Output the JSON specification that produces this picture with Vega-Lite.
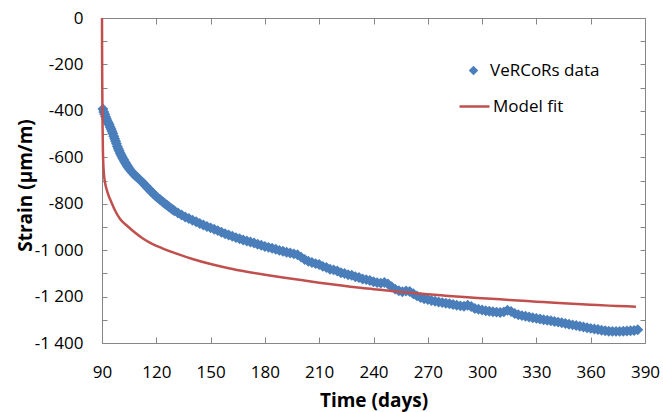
{
  "$schema": "https://vega.github.io/schema/vega-lite/v6.json",
  "width": 543,
  "height": 325,
  "autosize": "none",
  "padding": {"left": 102, "top": 18, "right": 18, "bottom": 69},
  "background": "white",
  "config": {
    "view": {"stroke": null},
    "font": "Open Sans",
    "axis": {"grid": false, "domainColor": "#868686", "tickColor": "#868686", "labelColor": "#000000", "titleColor": "#000000", "labelFont": "Open Sans", "titleFont": "Open Sans", "labelFontSize": 17, "titleFontSize": 19, "titleFontWeight": "bold", "domainWidth": 1, "tickWidth": 1, "ticks": true},
    "legend": {"labelFont": "Open Sans", "labelFontSize": 17, "labelColor": "#000000", "padding": 0}
  },
  "datasets": {
    "obs": [
      {"t": 90.5, "v": -392}, {"t": 91, "v": -405}, {"t": 91.5, "v": -415}, {"t": 92, "v": -425}, {"t": 92.5, "v": -435}, {"t": 93, "v": -445}, {"t": 93.5, "v": -452}, {"t": 94, "v": -460}, {"t": 94.5, "v": -469}, {"t": 95, "v": -478}, {"t": 95.5, "v": -488}, {"t": 96, "v": -498}, {"t": 96.5, "v": -509}, {"t": 97, "v": -520},
      {"t": 97.5, "v": -531}, {"t": 98, "v": -542}, {"t": 98.5, "v": -553}, {"t": 99, "v": -563}, {"t": 99.5, "v": -572}, {"t": 100, "v": -581}, {"t": 100.5, "v": -589}, {"t": 101, "v": -597}, {"t": 101.5, "v": -604}, {"t": 102, "v": -611}, {"t": 102.5, "v": -618}, {"t": 103, "v": -625}, {"t": 103.5, "v": -631}, {"t": 104, "v": -637}, {"t": 104.5, "v": -643}, {"t": 105, "v": -649}, {"t": 106, "v": -659}, {"t": 107, "v": -668}, {"t": 108, "v": -676}, {"t": 109, "v": -683}, {"t": 110, "v": -690},
      {"t": 112, "v": -705}, {"t": 113, "v": -713}, {"t": 114, "v": -722}, {"t": 115, "v": -730}, {"t": 116, "v": -738}, {"t": 117, "v": -746}, {"t": 118, "v": -754}, {"t": 119, "v": -762}, {"t": 120, "v": -769}, {"t": 121, "v": -776}, {"t": 122, "v": -782}, {"t": 123, "v": -788}, {"t": 124, "v": -795}, {"t": 125, "v": -801}, {"t": 126, "v": -807}, {"t": 127, "v": -813}, {"t": 128, "v": -819}, {"t": 129, "v": -825}, {"t": 130, "v": -830},
      {"t": 132, "v": -840}, {"t": 134, "v": -849}, {"t": 136, "v": -857}, {"t": 138, "v": -864}, {"t": 140, "v": -871}, {"t": 142, "v": -878}, {"t": 144, "v": -885}, {"t": 146, "v": -892}, {"t": 148, "v": -898}, {"t": 150, "v": -904}, {"t": 152, "v": -910}, {"t": 154, "v": -916}, {"t": 156, "v": -923}, {"t": 158, "v": -929}, {"t": 160, "v": -935}, {"t": 162, "v": -940}, {"t": 164, "v": -946}, {"t": 166, "v": -951}, {"t": 168, "v": -956}, {"t": 170, "v": -961}, {"t": 172, "v": -965}, {"t": 174, "v": -969}, {"t": 176, "v": -975}, {"t": 178, "v": -979}, {"t": 180, "v": -984}, {"t": 182, "v": -988}, {"t": 184, "v": -992}, {"t": 186, "v": -996}, {"t": 188, "v": -1001}, {"t": 190, "v": -1005}, {"t": 192, "v": -1009}, {"t": 194, "v": -1012}, {"t": 196, "v": -1016}, {"t": 198, "v": -1020}, {"t": 200, "v": -1030}, {"t": 202, "v": -1040}, {"t": 204, "v": -1048}, {"t": 206, "v": -1053}, {"t": 208, "v": -1058}, {"t": 210, "v": -1062}, {"t": 212, "v": -1070}, {"t": 214, "v": -1075}, {"t": 216, "v": -1082}, {"t": 218, "v": -1085}, {"t": 220, "v": -1090}, {"t": 222, "v": -1097}, {"t": 224, "v": -1101}, {"t": 226, "v": -1106}, {"t": 228, "v": -1108}, {"t": 230, "v": -1115}, {"t": 232, "v": -1118}, {"t": 234, "v": -1124}, {"t": 236, "v": -1127}, {"t": 238, "v": -1131}, {"t": 240, "v": -1136}, {"t": 242, "v": -1140}, {"t": 244, "v": -1142}, {"t": 246, "v": -1139}, {"t": 248, "v": -1146}, {"t": 250, "v": -1158}, {"t": 252, "v": -1168}, {"t": 254, "v": -1175}, {"t": 256, "v": -1179}, {"t": 258, "v": -1176}, {"t": 260, "v": -1178}, {"t": 262, "v": -1188}, {"t": 264, "v": -1197}, {"t": 266, "v": -1204}, {"t": 268, "v": -1209}, {"t": 270, "v": -1213}, {"t": 272, "v": -1217}, {"t": 274, "v": -1220}, {"t": 276, "v": -1223}, {"t": 278, "v": -1226}, {"t": 280, "v": -1229}, {"t": 282, "v": -1231}, {"t": 284, "v": -1234}, {"t": 286, "v": -1237}, {"t": 288, "v": -1240}, {"t": 290, "v": -1242}, {"t": 292, "v": -1237}, {"t": 294, "v": -1243}, {"t": 296, "v": -1251}, {"t": 298, "v": -1255}, {"t": 300, "v": -1258}, {"t": 302, "v": -1261}, {"t": 304, "v": -1263}, {"t": 306, "v": -1265}, {"t": 308, "v": -1267}, {"t": 310, "v": -1269}, {"t": 312, "v": -1266}, {"t": 314, "v": -1259}, {"t": 316, "v": -1264}, {"t": 318, "v": -1273}, {"t": 320, "v": -1278}, {"t": 322, "v": -1282}, {"t": 324, "v": -1285}, {"t": 326, "v": -1288}, {"t": 328, "v": -1291}, {"t": 330, "v": -1294}, {"t": 332, "v": -1297}, {"t": 334, "v": -1300}, {"t": 336, "v": -1302}, {"t": 338, "v": -1304}, {"t": 340, "v": -1307}, {"t": 342, "v": -1310}, {"t": 344, "v": -1313}, {"t": 346, "v": -1316}, {"t": 348, "v": -1319}, {"t": 350, "v": -1322}, {"t": 352, "v": -1325}, {"t": 354, "v": -1328}, {"t": 356, "v": -1331}, {"t": 358, "v": -1334}, {"t": 360, "v": -1337}, {"t": 362, "v": -1340}, {"t": 364, "v": -1342}, {"t": 366, "v": -1345}, {"t": 368, "v": -1347}, {"t": 370, "v": -1349}, {"t": 372, "v": -1350}, {"t": 374, "v": -1350}, {"t": 376, "v": -1350}, {"t": 378, "v": -1349}, {"t": 380, "v": -1348}, {"t": 382, "v": -1347}, {"t": 384, "v": -1346}, {"t": 386, "v": -1343}
    ],
    "fit": [
      {"t": 90, "v": 0}, {"t": 90.05, "v": -150}, {"t": 90.15, "v": -300}, {"t": 90.3, "v": -450}, {"t": 90.5, "v": -570}, {"t": 90.8, "v": -640}, {"t": 91.3, "v": -690}, {"t": 92, "v": -722}, {"t": 93, "v": -750}, {"t": 94, "v": -772}, {"t": 95, "v": -790}, {"t": 97, "v": -826}, {"t": 100, "v": -866}, {"t": 104, "v": -896}, {"t": 108, "v": -923}, {"t": 113, "v": -952}, {"t": 118, "v": -974}, {"t": 123, "v": -991}, {"t": 130, "v": -1012}, {"t": 140, "v": -1038}, {"t": 150, "v": -1060}, {"t": 160, "v": -1078}, {"t": 170, "v": -1093}, {"t": 180, "v": -1106}, {"t": 190, "v": -1118}, {"t": 200, "v": -1129}, {"t": 210, "v": -1140}, {"t": 220, "v": -1150}, {"t": 230, "v": -1160}, {"t": 240, "v": -1168}, {"t": 250, "v": -1176}, {"t": 260, "v": -1183}, {"t": 270, "v": -1190}, {"t": 280, "v": -1196}, {"t": 290, "v": -1202}, {"t": 300, "v": -1207}, {"t": 310, "v": -1212}, {"t": 320, "v": -1217}, {"t": 330, "v": -1222}, {"t": 340, "v": -1227}, {"t": 350, "v": -1231}, {"t": 360, "v": -1235}, {"t": 370, "v": -1239}, {"t": 380, "v": -1242}, {"t": 385, "v": -1244}
    ]
  },
  "layer": [
    {
      "data": {"name": "obs"},
      "mark": {"type": "point", "shape": "diamond", "filled": true, "size": 120, "opacity": 1, "color": "#4A7EBB", "strokeWidth": 0},
      "encoding": {
        "x": {"field": "t", "type": "quantitative", "scale": {"domain": [90, 390], "nice": false, "zero": false},
          "axis": {"orient": "bottom", "values": [90, 120, 150, 180, 210, 240, 270, 300, 330, 360, 390], "tickSize": -6, "labelPadding": 27, "title": "Time (days)", "titlePadding": 11, "labelFlush": false}},
        "y": {"field": "v", "type": "quantitative", "scale": {"domain": [-1400, 0], "nice": false, "zero": false},
          "axis": {"orient": "left", "values": [-1400, -1300, -1200, -1100, -1000, -900, -800, -700, -600, -500, -400, -300, -200, -100, 0], "tickSize": -5, "labelPadding": 24, "labelExpr": "datum.value % 200 != 0 ? '' : (datum.value == 0 ? '0' : (datum.value <= -1000 ? '-1 ' + format(-datum.value - 1000, '03d') : '-' + format(-datum.value, 'd')))", "title": "Strain (µm/m)", "titleX": -77, "titleY": 167, "titleBaseline": "middle", "labelFlush": false}},
        "shape": {"datum": "VeRCoRs data", "scale": {"domain": ["VeRCoRs data"], "range": ["diamond"]},
          "legend": {"orient": "none", "legendX": 363, "legendY": 44, "title": null, "symbolFillColor": "#4A7EBB", "symbolStrokeWidth": 0, "symbolSize": 90, "labelOffset": 8}}
      }
    },
    {
      "data": {"name": "fit"},
      "mark": {"type": "line", "strokeWidth": 2.5, "interpolate": "monotone"},
      "encoding": {
        "x": {"field": "t", "type": "quantitative",
          "axis": {"orient": "top", "values": [90, 120, 150, 180, 210, 240, 270, 300, 330, 360, 390], "tickSize": -6, "labels": false, "title": null}},
        "y": {"field": "v", "type": "quantitative",
          "axis": {"orient": "right", "values": [-1400, -1300, -1200, -1100, -1000, -900, -800, -700, -600, -500, -400, -300, -200, -100, 0], "tickSize": -5, "labels": false, "title": null}},
        "stroke": {"datum": "Model fit", "scale": {"domain": ["Model fit"], "range": ["#C0504D"]},
          "legend": {"orient": "none", "legendX": 356, "legendY": 72, "title": null, "symbolType": "stroke", "symbolSize": 900, "symbolStrokeWidth": 2.5, "labelOffset": 2}}
      }
    }
  ],
  "resolve": {"axis": {"x": "independent", "y": "independent"}}
}
